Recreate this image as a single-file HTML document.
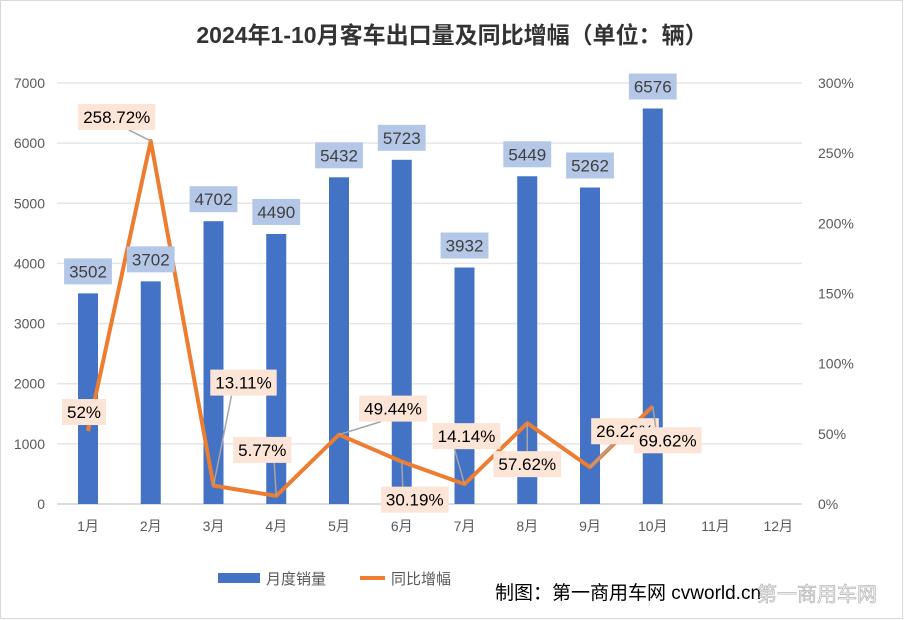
<!DOCTYPE html>
<html><head><meta charset="utf-8"><style>
body{margin:0;background:#fff}
svg{display:block;font-family:"Liberation Sans","Noto Sans CJK SC",sans-serif}
</style></head><body>
<svg id="c" width="904" height="620" viewBox="0 0 904 620">
<rect x="0.5" y="0.5" width="902" height="618" fill="#fff" stroke="#d9d9d9"/>
<text x="452" y="43" text-anchor="middle" font-size="23" font-weight="bold" fill="#333">2024年1-10月客车出口量及同比增幅（单位：辆）</text>
<g id="grid"></g><g id="bars"></g><g id="line"></g><g id="labels"></g><g id="axes"></g>
<g>
<rect x="218" y="573" width="42" height="10" fill="#4472c4"/>
<text x="266" y="584" font-size="15" fill="#595959">月度销量</text>
<line x1="360" y1="578" x2="385" y2="578" stroke="#ed7d31" stroke-width="4"/>
<text x="391" y="584" font-size="15" fill="#595959">同比增幅</text>
</g>
<text x="495" y="599" font-size="19" fill="#000">制图：第一商用车网 cvworld.cn</text>
<text x="757" y="601" font-size="20" fill="none" stroke="#b8b8b8" stroke-width="0.8">第一商用车网</text>
</svg>
<script>
const categories=["1月","2月","3月","4月","5月","6月","7月","8月","9月","10月","11月","12月"];
const volumes=[3502,3702,4702,4490,5432,5723,3932,5449,5262,6576];
const growth=[52,258.72,13.11,5.77,49.44,30.19,14.14,57.62,26.22,69.62];
const growthLabels=["52%","258.72%","13.11%","5.77%","49.44%","30.19%","14.14%","57.62%","26.22%","69.62%"];
const leftTicks=[0,1000,2000,3000,4000,5000,6000,7000];
const rightTicks=[0,50,100,150,200,250,300];
// label offsets (layout, not data)
const gOff=[[-4,-19],[-34,-24],[30,-103],[-14,-46],[54,-26],[13,38],[2,-48],[0,41],[35,-36],[15,34]];

const NS="http://www.w3.org/2000/svg";
const X0=57,X1=802,Y0=504,Y1=83;
const step=(X1-X0+8)/12;
const x=i=>X0+26+step*i+5;
const yL=v=>Y0-(v/7000)*(Y0-Y1);
const yR=v=>Y0-(v/300)*(Y0-Y1);
function mk(tag,attrs,parent,txt){const e=document.createElementNS(NS,tag);for(const k in attrs)e.setAttribute(k,attrs[k]);if(txt!=null)e.textContent=txt;parent.appendChild(e);return e;}
const G=id=>document.getElementById(id);

leftTicks.forEach(t=>{
 const l=mk('line',{x1:X0,x2:X1,y1:yL(t),y2:yL(t),stroke:t===0?'#d0d0d0':'#e6e6e6','stroke-width':1.5},G('grid'));
 
 
 const tx=mk('text',{x:45,y:yL(t)+5,'text-anchor':'end','font-size':14,fill:'#595959'},G('axes'),t);
 
 
});
rightTicks.forEach(t=>{
 const tx=mk('text',{x:818,y:yR(t)+5,'font-size':14,fill:'#595959'},G('axes'),t+'%');
 
 
});
categories.forEach((c,i)=>{
 const tx=mk('text',{x:x(i),y:531,'text-anchor':'middle','font-size':14,fill:'#595959'},G('axes'),c);
 
 
});
volumes.forEach((v,i)=>{
 const r=mk('rect',{x:x(i)-10,y:yL(v),width:20,height:Y0-yL(v),fill:'#4472c4'},G('bars'));
 
 
});
const pts=growth.map((g,i)=>[x(i),yR(g)]);
const pl=mk('polyline',{points:pts.map(p=>p.join(',')).join(' '),fill:'none',stroke:'#ed7d31','stroke-width':4,'stroke-linejoin':'round'},G('line'));



function box(cx,cy,txt,bg,name){
 const g=mk('g',{},G('labels'));
 
 
 const r=mk('rect',{fill:bg},g);
 const t=mk('text',{x:cx,y:cy+6,'text-anchor':'middle','font-size':17,fill:bg==='#b4c7e7'?'#404040':'#000'},g,txt);
 const b=t.getBBox();
 r.setAttribute('x',b.x-5);r.setAttribute('y',cy-13);r.setAttribute('width',b.width+10);r.setAttribute('height',26);
}
volumes.forEach((v,i)=>box(x(i),yL(v)-22,String(v),'#b4c7e7','bar-value-label'));
growth.forEach((g,i)=>{
 const [px,py]=pts[i];const lx=px+gOff[i][0],ly=py+gOff[i][1];
 if(Math.hypot(gOff[i][0],gOff[i][1])>30){
  const ln=mk('line',{x1:px,y1:py,x2:lx-Math.sign(gOff[i][0])*12,y2:ly+(gOff[i][1]<0?13:-13),stroke:'#a6a6a6','stroke-width':1.5},G('labels'));
  
  
 }
 box(lx,ly,growthLabels[i],'#fce4d6','growth-value-label');
});
</script>
</body></html>
